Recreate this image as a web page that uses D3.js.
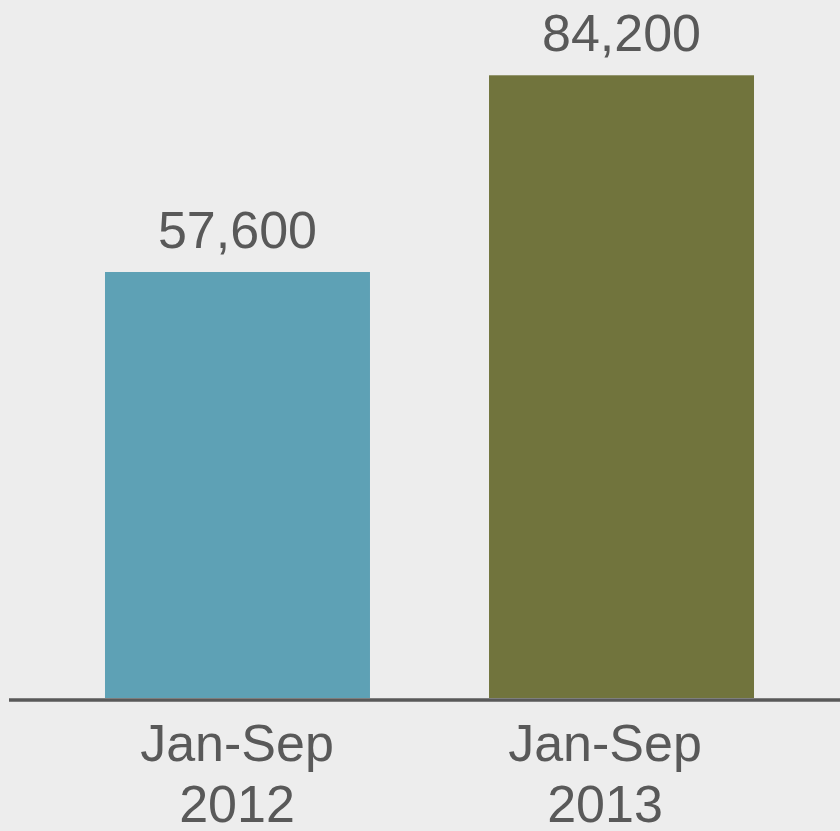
<!DOCTYPE html>
<html>
<head>
<meta charset="utf-8">
<script src="https://cdn.jsdelivr.net/npm/d3@7"></script>
<style>
  html, body { margin: 0; padding: 0; background: #ededed; }
  svg { display: block; }
</style>
</head>
<body>
<div id="chart"></div>
<script>
// chart data
const periods = ["Jan-Sep", "Jan-Sep"];
const years = ["2012", "2013"];
const values = [57600, 84200];
const barColors = ["#5ea1b5", "#71743d"];

const width = 840, height = 831;
const baseY = 698;

const svg = d3.select("#chart")
  .append("svg")
  .attr("width", width)
  .attr("height", height);

svg.append("rect")
  .attr("width", width)
  .attr("height", height)
  .attr("fill", "#ededed");

// scales
const x = d3.scaleBand()
  .domain(years)
  .range([0, 859])
  .paddingInner(0.31)
  .paddingOuter(0.2734);

// category labels sit on their own evenly spaced slots
const xLabel = d3.scaleBand()
  .domain(years)
  .range([53, 789]);

const y = d3.scaleLinear()
  .domain([0, 94380])
  .range([baseY, 0]);

const data = years.map((yr, i) => ({ year: yr, period: periods[i], value: values[i], color: barColors[i] }));

// bars
svg.selectAll(".bar")
  .data(data)
  .enter()
  .append("rect")
  .attr("class", "bar")
  .attr("x", d => x(d.year))
  .attr("y", d => y(d.value))
  .attr("width", x.bandwidth())
  .attr("height", d => baseY - y(d.value))
  .attr("fill", d => d.color);

// value labels
svg.selectAll(".val")
  .data(data)
  .enter()
  .append("text")
  .attr("class", "val")
  .attr("x", d => x(d.year) + x.bandwidth() / 2)
  .attr("y", d => y(d.value) - 24)
  .attr("text-anchor", "middle")
  .style("font-family", "Liberation Sans, Arial, sans-serif")
  .style("font-size", "52px")
  .style("fill", "#595959")
  .text(d => d3.format(",")(d.value));

// baseline
svg.append("line")
  .attr("x1", 9)
  .attr("x2", width)
  .attr("y1", y(0) + 2)
  .attr("y2", y(0) + 2)
  .attr("stroke", "#595959")
  .attr("stroke-width", 3.5);

// category labels (two lines)
const cat = svg.selectAll(".cat")
  .data(data)
  .enter()
  .append("text")
  .attr("class", "cat")
  .attr("text-anchor", "middle")
  .style("font-family", "Liberation Sans, Arial, sans-serif")
  .style("font-size", "52px")
  .style("fill", "#595959");

cat.append("tspan")
  .attr("x", d => xLabel(d.year) + xLabel.bandwidth() / 2)
  .attr("y", 761)
  .text(d => d.period);

cat.append("tspan")
  .attr("x", d => xLabel(d.year) + xLabel.bandwidth() / 2)
  .attr("y", 822)
  .text(d => d.year);
</script>
</body>
</html>
